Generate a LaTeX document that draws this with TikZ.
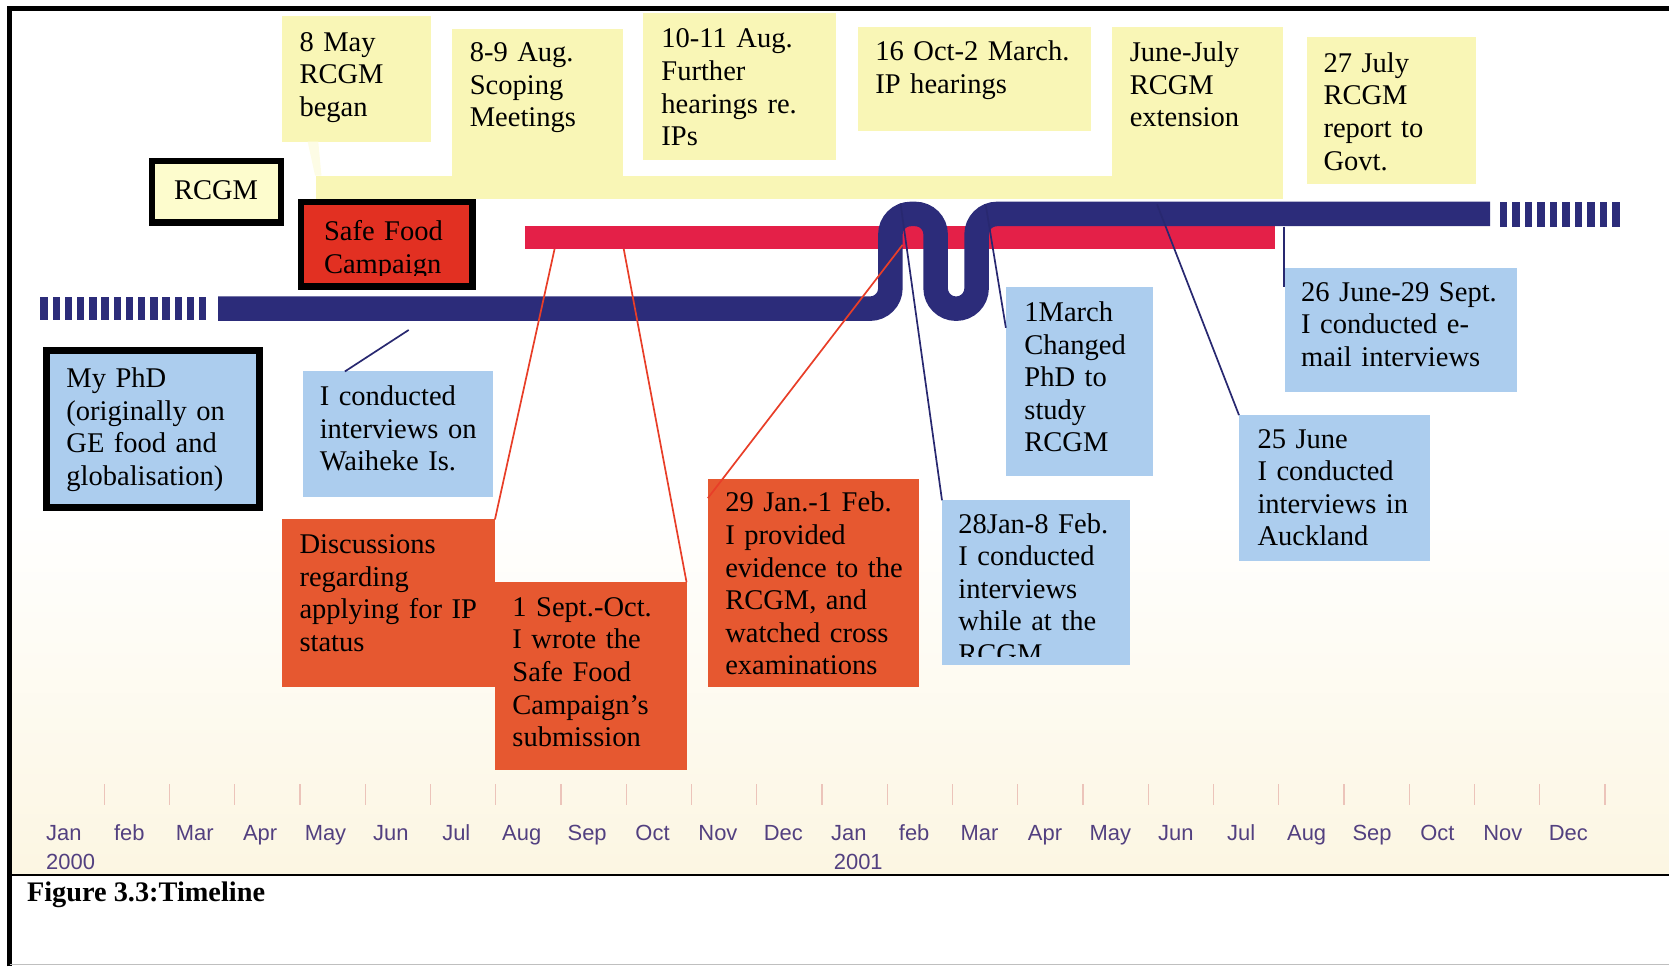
\documentclass[tikz,border=0pt]{standalone}
\usepackage{fontspec}
\setmainfont{Liberation Serif}
\newfontfamily\axisfont{Liberation Sans}
\usetikzlibrary{fit,calc}

\definecolor{navy}{RGB}{44,44,122}
\definecolor{crimson}{RGB}{228,32,72}
\definecolor{note}{RGB}{249,246,182}
\definecolor{notelight}{RGB}{253,252,205}
\definecolor{sky}{RGB}{172,205,238}
\definecolor{rust}{RGB}{230,88,48}
\definecolor{campred}{RGB}{226,48,34}
\definecolor{monthink}{RGB}{82,64,128}
\definecolor{tickink}{RGB}{236,196,186}
\definecolor{cream}{RGB}{252,246,226}
\definecolor{leadred}{RGB}{232,62,40}
\definecolor{leadblue}{RGB}{40,40,112}

\begin{document}
\begin{tikzpicture}[x=0.5pt,y=-0.5pt,
  card/.style={inner sep=0pt, outer sep=0pt, draw=none},
  yellowcard/.style={card, fill=note},
  bluecard/.style={card, fill=sky},
  rustcard/.style={card, fill=rust},
  keybox/.style={inner sep=0pt, outer sep=0pt, draw=black, line width=3pt},
  words/.style={inner sep=0pt, anchor=base west, align=left, text width=150pt,
    font=\fontsize{13.4}{15.3}\selectfont},
  month/.style={inner sep=0pt, anchor=base, text=monthink,
    font=\axisfont\fontsize{10.3}{12}\selectfont},
  redlead/.style={leadred, line width=0.8pt},
  bluelead/.style={leadblue, line width=0.8pt},
  tick/.style={tickink, line width=0.6pt}
]
\useasboundingbox (0,0) rectangle (1568,908);

% faint paper tint towards the axis
\shade[top color=white, bottom color=cream] (11,480) rectangle (1568,821);

% outer frame and caption rule
\draw[line width=2pt] (9,908) -- (9,8) -- (1568,8);
\draw[line width=1.3pt] (9,822) -- (1568,822);
\draw[black!25, line width=0.8pt] (9,906) -- (1568,906);

% ---------------- RCGM notes (yellow) ----------------
\fill[note] (297,165) rectangle (1198,187);
\node[yellowcard, fit={(265,15)(405,133)}] (may) {};
\node[words] (maytext) at (281,48) {8 May\\RCGM\\began};
\node[yellowcard, fit={(425,27)(585,187)}] (scoping) {};
\node[words] (scopingtext) at (441,58) {8-9 Aug.\\Scoping\\Meetings};
\node[yellowcard, fit={(604,12)(785,150)}] (further) {};
\node[words] (furthertext) at (621,45) {10-11 Aug.\\Further\\hearings re.\\IPs};
\node[yellowcard, fit={(806,25)(1025,123)}] (iphear) {};
\node[words] (ipheartext) at (822,57) {16 Oct-2 March.\\IP hearings};
\node[yellowcard, fit={(1045,25)(1205,187)}] (extension) {};
\node[words] (extensiontext) at (1061,58) {June-July\\RCGM\\extension};
\node[yellowcard, fit={(1228,35)(1387,173)}] (report) {};
\node[words] (reporttext) at (1243,68) {27 July\\RCGM\\report to\\Govt.};
% faint pointer from the first note down to the band
\fill[note!35] (289,133) -- (299,133) -- (302,165) -- (296,165) -- cycle;

% ---------------- key boxes ----------------
\node[keybox, fill=notelight, fit={(143,151)(264,209)}] (rcgmkey) {};
\node[words, anchor=base, text width=] (rcgmkeytext) at (203,187) {RCGM};
\node[keybox, fill=campred, fit={(283,190)(444,269)}] (campaign) {};
\begin{scope}
  \clip (286,193) rectangle (441,259);
  \node[words] (campaigntext) at (304,226) {Safe Food\\Campaign};
\end{scope}
\node[keybox, line width=3.3pt, fill=sky, fit={(43.5,329.5)(243.5,476.5)}] (phd) {};
\node[words] (phdtext) at (62,364) {My PhD\\(originally on\\GE food and\\globalisation)};

% ---------------- timelines ----------------
% Safe Food Campaign
\fill[crimson] (493,212) rectangle (1198,234);
% PhD line, with its change of course in early 2001
\foreach \i in {0,...,13}
  \fill[navy] ({38+11.45*\i},279) rectangle ({45+11.45*\i},301);
\draw[navy, line width=11.5pt, rounded corners=9.6pt]
  (205,290) -- (836.5,290) -- (836.5,201) -- (879,201) -- (879,290)
  -- (917.5,290) -- (917.5,201) -- (1400,201);
\foreach \i in {0,...,9}
  \fill[navy] ({1409+11.75*\i},190) rectangle ({1416+11.75*\i},213);

% anchor points on the timelines
\coordinate (redA) at (521,234);
\coordinate (redB) at (586,234);
\coordinate (redC) at (848,230);
\coordinate (blueA) at (384,310);
\coordinate (blueB) at (846,191);
\coordinate (blueC) at (926,192);
\coordinate (blueD) at (1087,192);
\coordinate (blueE) at (1206.5,213);

% ---------------- PhD notes (blue) ----------------
\node[bluecard, fit={(285,349)(463,467)}] (waiheke) {};
\node[words] (waiheketext) at (300,381) {I conducted\\interviews on\\Waiheke Is.};
\node[bluecard, fit={(945,270)(1083,447)}] (march) {};
\node[words] (marchtext) at (962,302) {1March\\Changed\\PhD to\\study\\RCGM};
\node[bluecard, fit={(885,470)(1062,625)}] (jan28) {};
\begin{scope}
  \clip (jan28.north west) rectangle (1062,617);
  \node[words] (jan28text) at (900,501) {28Jan-8 Feb.\\I conducted\\interviews\\while at the\\RCGM};
\end{scope}
\node[bluecard, fit={(1207,252)(1425,368)}] (june26) {};
\node[words] (june26text) at (1222,283) {26 June-29 Sept.\\I conducted e-\\mail interviews};
\node[bluecard, fit={(1164,390)(1343,527)}] (june25) {};
\node[words] (june25text) at (1181,421) {25 June\\I conducted\\interviews in\\Auckland};

% ---------------- campaign notes (orange) ----------------
\node[rustcard, fit={(265,488)(465,645)}] (disc) {};
\node[words] (disctext) at (281,520) {Discussions\\regarding\\applying for IP\\status};
\node[rustcard, fit={(465,547)(645,723)}] (sept) {};
\node[words] (septtext) at (481,579) {1 Sept.-Oct.\\I wrote the\\Safe Food\\Campaign’s\\submission};
\node[rustcard, fit={(665,450)(863,645)}] (jan29) {};
\node[words] (jan29text) at (681,481) {29 Jan.-1 Feb.\\I provided\\evidence to the\\RCGM, and\\watched cross\\examinations};

% ---------------- leader lines ----------------
\draw[redlead] (redA) -- (disc.north east);
\draw[redlead] (redB) -- (sept.north east);
\draw[redlead] (redC) -- ($(jan29.north west)+(0,18)$);
\draw[bluelead] (blueA) -- ($(waiheke.north west)+(39,0)$);
\draw[bluelead] (blueB) -- (jan28.north west);
\draw[bluelead] (blueC) -- ($(march.north west)+(0,38)$);
\draw[bluelead] (blueD) -- (june25.north west);
\draw[bluelead] (blueE) -- ($(june26.north west)+(-0.5,18)$);

% ---------------- month axis ----------------
\foreach \k in {0,...,23}
  \draw[tick] ({98+61.3*\k},737) -- ({98+61.3*\k},756);
\foreach \m [count=\i from 0] in {Jan,feb,Mar,Apr,May,Jun,Jul,Aug,Sep,Oct,Nov,Dec,
                                  Jan,feb,Mar,Apr,May,Jun,Jul,Aug,Sep,Oct,Nov,Dec}
  \node[month] (m\i) at ({60+61.45*\i},790) {\m};
\node[month, anchor=base west] (y2000) at (43,817) {2000};
\node[month, anchor=base west] (y2001) at (783,817) {2001};

% caption
\node[inner sep=0pt, anchor=base west, font=\bfseries\fontsize{13.3}{16}\selectfont]
  (caption) at (25,847) {Figure 3.3:Timeline};
\end{tikzpicture}
\end{document}
